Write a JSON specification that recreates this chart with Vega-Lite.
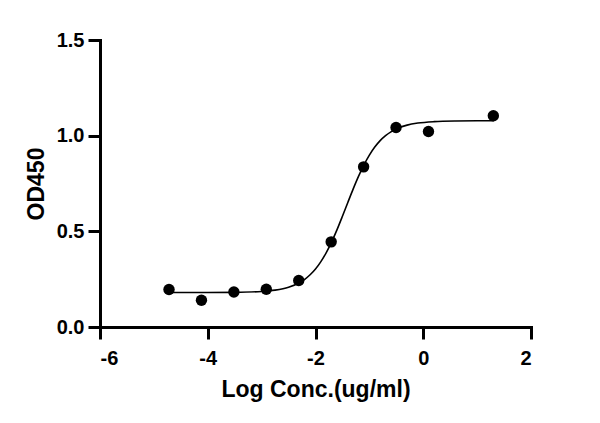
{
  "$schema": "https://vega.github.io/schema/vega-lite/v6.json",
  "width": 431,
  "height": 287,
  "autosize": "none",
  "padding": {"left": 100, "top": 40, "right": 69, "bottom": 96},
  "background": "white",
  "config": {
    "view": {"stroke": null},
    "axis": {
      "grid": false,
      "domainColor": "black", "domainWidth": 3, "domainCap": "square",
      "tickColor": "black", "tickWidth": 3, "tickSize": 12,
      "labelFont": "Liberation Sans", "labelFontWeight": "bold", "labelFontSize": 20, "labelColor": "black",
      "titleFont": "Liberation Sans", "titleFontWeight": "bold", "titleFontSize": 23, "titleColor": "black"
    }
  },
  "datasets": {
    "points": [
      {"logc": -4.719, "od": 0.196},
      {"logc": -4.117, "od": 0.140},
      {"logc": -3.515, "od": 0.183},
      {"logc": -2.913, "od": 0.197},
      {"logc": -2.311, "od": 0.243},
      {"logc": -1.709, "od": 0.445},
      {"logc": -1.107, "od": 0.837},
      {"logc": -0.505, "od": 1.043},
      {"logc": 0.097, "od": 1.022},
      {"logc": 1.301, "od": 1.104}
    ],
    "curve": [
      {"logc": -4.72, "od": 0.1800},
      {"logc": -4.0, "od": 0.1802},
      {"logc": -3.5, "od": 0.1811},
      {"logc": -3.0, "od": 0.1857},
      {"logc": -2.75, "od": 0.1926},
      {"logc": -2.5, "od": 0.2076},
      {"logc": -2.3, "od": 0.2313},
      {"logc": -2.2, "od": 0.2492},
      {"logc": -2.1, "od": 0.2729},
      {"logc": -2.0, "od": 0.3033},
      {"logc": -1.9, "od": 0.3418},
      {"logc": -1.8, "od": 0.3890},
      {"logc": -1.7, "od": 0.4450},
      {"logc": -1.6, "od": 0.5089},
      {"logc": -1.5, "od": 0.5786},
      {"logc": -1.4, "od": 0.6507},
      {"logc": -1.3, "od": 0.7217},
      {"logc": -1.2, "od": 0.7882},
      {"logc": -1.1, "od": 0.8476},
      {"logc": -1.0, "od": 0.8984},
      {"logc": -0.9, "od": 0.9403},
      {"logc": -0.8, "od": 0.9739},
      {"logc": -0.7, "od": 1.0000},
      {"logc": -0.6, "od": 1.0201},
      {"logc": -0.5, "od": 1.0353},
      {"logc": -0.3, "od": 1.0551},
      {"logc": -0.1, "od": 1.0658},
      {"logc": 0.2, "od": 1.0733},
      {"logc": 0.6, "od": 1.0767},
      {"logc": 1.0, "od": 1.0776},
      {"logc": 1.31, "od": 1.0778}
    ]
  },
  "encoding": {
    "x": {"field": "logc", "type": "quantitative", "scale": {"domain": [-6, 2], "nice": false, "zero": false},
          "axis": {"values": [-6, -4, -2, 0, 2], "title": "Log Conc.(ug/ml)",
                   "labelExpr": "replace(datum.label, '\u2212', '-')",
                   "labelPadding": 9, "titlePadding": 10}},
    "y": {"field": "od", "type": "quantitative", "scale": {"domain": [0, 1.5], "nice": false, "zero": false},
          "axis": {"values": [0, 0.5, 1, 1.5], "format": ".1f", "title": "OD450",
                   "labelPadding": 4, "titlePadding": 8}}
  },
  "layer": [
    {
      "data": {"name": "curve"},
      "mark": {"type": "line", "color": "black", "strokeWidth": 1.6, "interpolate": "monotone"}
    },
    {
      "data": {"name": "points"},
      "mark": {"type": "point", "filled": true, "color": "black", "opacity": 1, "size": 130}
    }
  ]
}
